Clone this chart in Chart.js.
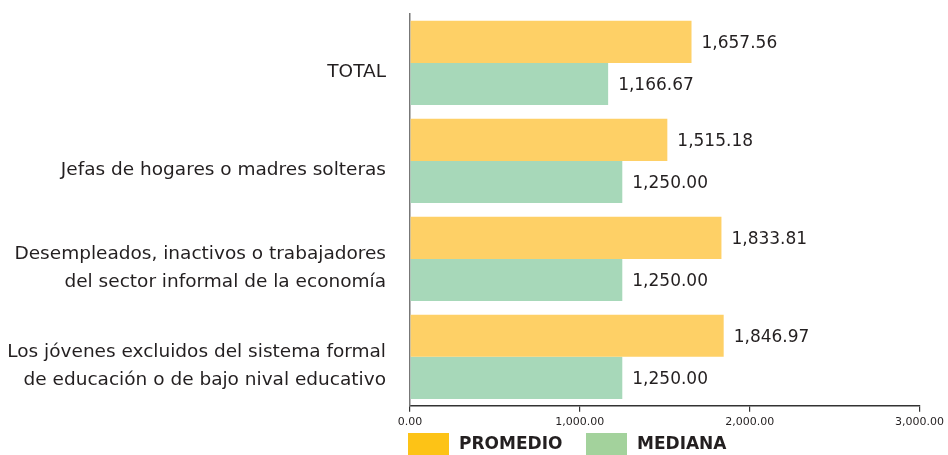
<!DOCTYPE html>
<html>
<head>
<meta charset="utf-8">
<script src="https://cdn.jsdelivr.net/npm/chart.js@4.4.1/dist/chart.umd.min.js"></script>
<style>
  html, body { margin: 0; padding: 0; background: #fff; }
  #wrap { width: 948px; height: 455px; position: relative; }
</style>
</head>
<body>
<div id="wrap"><canvas id="chart"></canvas></div>
<script>
// categories and values
const categories = [
    ['TOTAL'],
    ['Jefas de hogares o madres solteras'],
    ['Desempleados, inactivos o trabajadores', 'del sector informal de la economía'],
    ['Los jóvenes excluidos del sistema formal', 'de educación o de bajo nival educativo']
];
const promedio = [1657.56, 1515.18, 1833.81, 1846.97];
const mediana = [1166.67, 1250.00, 1250.00, 1250.00];
const seriesNames = ['PROMEDIO', 'MEDIANA'];
const xTicks = [0, 1000, 2000, 3000];

const FONT = "'DejaVu Sans', sans-serif";
const fmt = v => v.toLocaleString('en-US', {minimumFractionDigits: 2, maximumFractionDigits: 2});

// legend box colours are stronger than the bar fills in the original
const legendColors = ['rgb(253, 195, 22)', 'rgb(163, 210, 156)'];

const valueLabels = {
    id: 'valueLabels',
    afterDatasetsDraw(chart) {
        const ctx = chart.ctx;
        ctx.save();
        ctx.font = '17px ' + FONT;
        ctx.fillStyle = '#231f20';
        ctx.textAlign = 'left';
        ctx.textBaseline = 'middle';
        chart.data.datasets.forEach((ds, i) => {
            chart.getDatasetMeta(i).data.forEach((bar, j) => {
                ctx.fillText(fmt(ds.data[j]), bar.x + 10, bar.y + 2);
            });
        });
        ctx.restore();
    }
};

const bottomLegend = {
    id: 'bottomLegend',
    afterDraw(chart) {
        const ctx = chart.ctx;
        const left = chart.chartArea.left - 2;
        const starts = [left, left + 178];
        ctx.save();
        ctx.font = 'bold 17px ' + FONT;
        ctx.textBaseline = 'middle';
        chart.data.datasets.forEach((ds, i) => {
            const x = starts[i];
            ctx.fillStyle = legendColors[i];
            ctx.fillRect(x, 433, 41, 22);
            ctx.fillStyle = '#231f20';
            ctx.fillText(ds.label, x + 51, 445);
        });
        ctx.restore();
    }
};

new Chart(document.querySelector('#chart'), {
    type: 'bar',
    data: {
        labels: categories,
        datasets: [{
            label: seriesNames[0],
            backgroundColor: 'rgb(254, 208, 102)',
            data: promedio,
        },
        {
            label: seriesNames[1],
            backgroundColor: 'rgb(167, 216, 185)',
            data: mediana,
        }]
    },
    options: {
        indexAxis: 'y',
        responsive: true,
        maintainAspectRatio: false,
        animation: false,
        categoryPercentage: 0.86,
        barPercentage: 1.0,
        layout: { padding: { top: 14, right: 28, bottom: 22, left: 0 } },
        plugins: {
            legend: { display: false },
            tooltip: { enabled: false }
        },
        scales: {
            x: {
                min: 0,
                max: 3000,
                afterBuildTicks(scale) { scale.ticks = xTicks.map(v => ({value: v})); },
                ticks: {
                    callback: v => fmt(v),
                    font: { family: FONT, size: 11 },
                    color: '#231f20',
                    padding: 4,
                    maxRotation: 0
                },
                grid: { drawOnChartArea: false, drawTicks: true, tickLength: 6, color: '#333', lineWidth: 1.2 },
                border: { color: '#333', width: 1.5 }
            },
            y: {
                afterFit(scale) {
                    scale.width = 410;
                    scale.paddingTop = 0;
                    scale.paddingBottom = 0;
                },
                ticks: {
                    font: { family: FONT, size: 18.5, lineHeight: 1.5 },
                    color: '#231f20',
                    padding: 24,
                    labelOffset: 9
                },
                grid: { display: false, drawTicks: false },
                border: { color: '#777', width: 1.5 }
            }
        }
    },
    plugins: [valueLabels, bottomLegend]
});
</script>
</body>
</html>
